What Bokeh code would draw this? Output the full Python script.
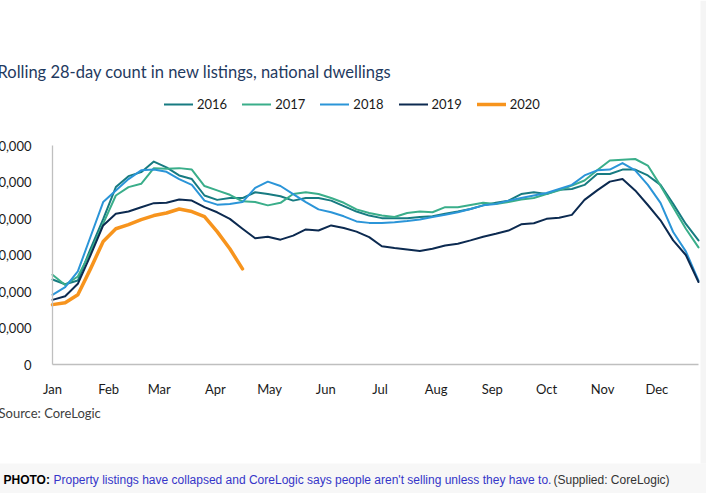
from bokeh.plotting import figure
from bokeh.models import (Range1d, Label, Legend, LegendItem, BoxAnnotation,
                          FixedTicker, NumeralTickFormatter)
from bokeh.embed import file_html
from bokeh.resources import INLINE

# ---------------- data (new listings, rolling 28-day count) ----------------
months = ["Jan", "Feb", "Mar", "Apr", "May", "Jun",
          "Jul", "Aug", "Sep", "Oct", "Nov", "Dec"]
month_start_day = [0, 31, 59, 90, 120, 151, 181, 212, 243, 273, 304, 334]
y_ticks = [0, 10000, 20000, 30000, 40000, 50000, 60000]

weeks = list(range(1, 53))

s2016 = [23300, 22000, 23000, 31700, 39800, 48600, 51600, 52700, 55600, 54000,
         51800, 50800, 46300, 45100, 45600, 45600, 47200, 46700, 46100, 44900,
         45600, 45600, 44900, 43400, 41900, 40800, 40100, 40100, 40100, 40400,
         40600, 41300, 41900, 42600, 43600, 44300, 44900, 46700, 47200, 46700,
         47900, 48100, 49200, 52200, 52200, 53400, 53400, 51800, 49200, 44000,
         38500, 34000]
s2017 = [24600, 21800, 24100, 30800, 38600, 46300, 48600, 49500, 53800, 53600,
         53800, 53400, 48900, 47700, 46500, 44700, 44500, 43600, 44300, 46700,
         47200, 46700, 45600, 44300, 42500, 41500, 40800, 40400, 41500, 41900,
         41700, 43100, 43100, 43700, 44300, 44000, 44500, 45200, 45600, 46700,
         47700, 49000, 50400, 53200, 55900, 56100, 56300, 54500, 49000, 43100,
         37200, 32100]
s2018 = [19100, 21200, 25500, 35000, 44500, 47700, 50800, 53200, 53400, 52800,
         50800, 49200, 44900, 43800, 44000, 44500, 48400, 50100, 48900, 46700,
         44500, 42500, 41700, 40600, 39200, 38800, 38800, 39000, 39300, 39700,
         40400, 41000, 41700, 42600, 43600, 44000, 44900, 45600, 46300, 47000,
         48100, 49200, 51800, 53200, 53400, 55200, 53200, 49200, 44300, 36300,
         31000, 23000]
s2019 = [17700, 18700, 22100, 29900, 38100, 41300, 41900, 43100, 44200, 44300,
         45200, 44900, 43100, 41700, 39900, 37200, 34600, 35000, 34200, 35300,
         37000, 36700, 38100, 37400, 36400, 34900, 32400, 31900, 31500, 31100,
         31700, 32600, 33100, 34000, 35000, 35800, 36700, 38400, 38700, 39900,
         40200, 41000, 45100, 47700, 50100, 50800, 47700, 43700, 39500, 34000,
         30000, 22600]
s2020 = [16400, 16900, 19100, 26200, 33700, 37200, 38300, 39700, 40800, 41500,
         42600, 41900, 40500, 36400, 31700, 26200]

series = [("2016", s2016, "#177b81", 2.0),
          ("2017", s2017, "#3aae8a", 2.0),
          ("2018", s2018, "#2b95d8", 2.0),
          ("2019", s2019, "#0c2a50", 2.0),
          ("2020", s2020, "#f7941d", 3.5)]

FONT = "Lato"
SHIFT = 10            # left part of the original chart is cropped
W, H = 716, 493       # canvas size (shifted left by SHIFT)
PX_LEFT, PX_RIGHT = 62, 708   # canvas px of day 0 / day 357
PX_ZERO, PX_TOP = 364, 145    # canvas px of 0 / 60,000

kx = (PX_RIGHT - PX_LEFT) / 357.0
ky = (PX_ZERO - PX_TOP) / 60000.0
x_range = Range1d(-PX_LEFT / kx, 357 + (W - PX_RIGHT) / kx)
y_range = Range1d(-(H - PX_ZERO) / ky, 60000 + PX_TOP / ky)

p = figure(width=W, height=H, output_backend="svg", toolbar_location=None,
           x_range=x_range, y_range=y_range,
           min_border=0, min_border_left=0, min_border_right=0,
           min_border_top=0, min_border_bottom=0,
           border_fill_color="white", background_fill_color="white",
           outline_line_color=None, margin=(0, 0, 0, -SHIFT))

p.xgrid.grid_line_color = None
p.ygrid.grid_line_color = None

# caption strip / page edge (drawn first, underneath)
p.add_layout(BoxAnnotation(left=0, right=W, bottom=0, top=H - 463,
                           left_units="screen", right_units="screen",
                           top_units="screen", bottom_units="screen",
                           fill_color="#f7f7f7", fill_alpha=1, line_color=None,
                           level="underlay"))
p.add_layout(BoxAnnotation(left=710, right=W, bottom=H - 463, top=H,
                           left_units="screen", right_units="screen",
                           top_units="screen", bottom_units="screen",
                           fill_color="#f5f5f5", fill_alpha=1, line_color=None,
                           level="underlay"))

renderers = []
for name, vals, color, lw in series:
    xs = [(w - 1) * 7 for w in weeks[:len(vals)]]
    r = p.line(xs, vals, line_color=color, line_width=lw,
               line_join="round", line_cap="round")
    renderers.append((name, r))

# axes, pinned at day 0 / value 0 so the frame can span the whole canvas
p.xaxis.fixed_location = 0
p.yaxis.fixed_location = 0
p.xaxis.bounds = (0, 357)
p.yaxis.bounds = (0, 60000)
p.xaxis.ticker = FixedTicker(ticks=month_start_day)
p.xaxis.major_label_overrides = {d: m for d, m in zip(month_start_day, months)}
p.yaxis.ticker = FixedTicker(ticks=y_ticks)
p.yaxis.formatter = NumeralTickFormatter(format="0,0")
for ax in (p.xaxis[0], p.yaxis[0]):
    ax.axis_line_color = "#bfbfbf"
    ax.axis_line_width = 1.3
    ax.major_tick_line_color = None
    ax.minor_tick_line_color = None
    ax.major_label_text_font = FONT
    ax.major_label_text_font_size = "13px"
    ax.major_label_text_color = "#1a1a1a"
p.xaxis.major_label_standoff = 10
p.yaxis.major_label_standoff = 15

# legend
legend = Legend(items=[LegendItem(label=n, renderers=[r]) for n, r in renderers],
                orientation="horizontal", location=(174, H - 114),
                glyph_width=29, glyph_height=20, label_height=20,
                label_standoff=4, spacing=15, padding=0, margin=0,
                border_line_color=None, background_fill_alpha=0,
                label_text_font=FONT, label_text_font_size="13px",
                label_text_color="#1a1a1a")
p.add_layout(legend)

# title and source
p.add_layout(Label(x=7, y=H - 71, x_units="screen", y_units="screen",
                   text="Rolling 28-day count in new listings, national dwellings",
                   text_font=FONT, text_font_size="16.5px", text_color="#1f3a60",
                   text_baseline="middle"))
p.add_layout(Label(x=8, y=H - 412, x_units="screen", y_units="screen",
                   text="Source: CoreLogic", text_font=FONT,
                   text_font_size="13px", text_color="#404040",
                   text_baseline="middle"))

# caption
p.add_layout(Label(x=13, y=H - 479, x_units="screen", y_units="screen",
                   text="PHOTO:", text_font="Liberation Sans",
                   text_font_style="bold", text_font_size="12px",
                   text_color="#000000", text_baseline="middle"))
p.add_layout(Label(x=63, y=H - 479, x_units="screen", y_units="screen",
                   text="Property listings have collapsed and CoreLogic says people aren't selling unless they have to.",
                   text_font="Liberation Sans", text_font_size="12px",
                   text_color="#3535c8", text_baseline="middle"))
p.add_layout(Label(x=563, y=H - 479, x_units="screen", y_units="screen",
                   text="(Supplied: CoreLogic)",
                   text_font="Liberation Sans", text_font_size="12px",
                   text_color="#333333", text_baseline="middle"))

open("out.html", "w").write(file_html(p, INLINE))
